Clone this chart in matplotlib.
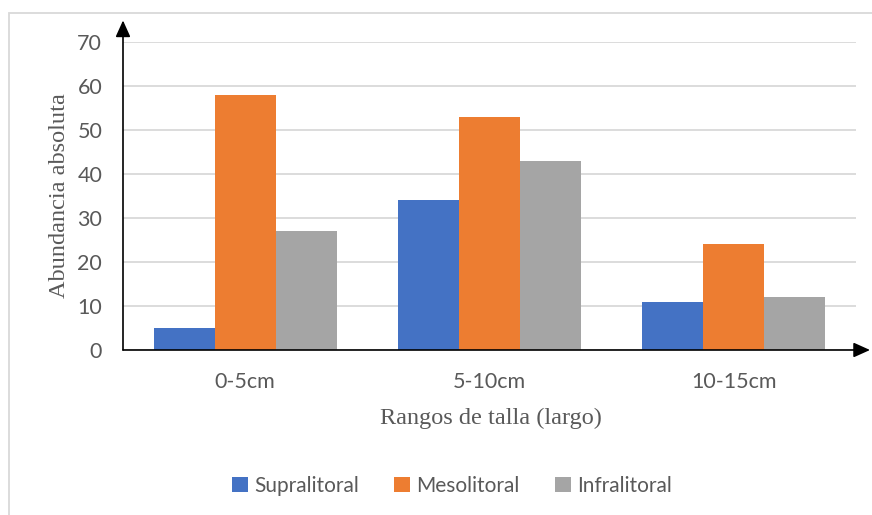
import numpy as np
import matplotlib.pyplot as plt
from matplotlib.patches import Rectangle

categories = ["0-5cm", "5-10cm", "10-15cm"]
series_names = ["Supralitoral", "Mesolitoral", "Infralitoral"]
supralitoral = [5, 34, 11]
mesolitoral = [58, 53, 24]
infralitoral = [27, 43, 12]
y_ticks = [0, 10, 20, 30, 40, 50, 60, 70]

colors = ["#4472c4", "#ed7d31", "#a5a5a5"]
tick_color = "#595959"

W, H = 872, 515
fig = plt.figure(figsize=(W / 100, H / 100), dpi=100)

# light chart-area border
fig.patches.append(Rectangle((9 / W, -0.1), 1.2, 1 - 13 / H + 0.1,
                             transform=fig.transFigure, fill=False,
                             edgecolor="#d9d9d9", linewidth=1.3))

ax = fig.add_axes([123 / W, 165 / H, (856 - 123) / W, (350 - 42) / H])

x = np.arange(len(categories))
width = 0.25
for i, (name, vals) in enumerate(zip(series_names, [supralitoral, mesolitoral, infralitoral])):
    ax.bar(x + (i - 1) * width, vals, width, color=colors[i], label=name, zorder=3)

ax.set_xlim(-0.5, len(categories) - 0.5)
ax.set_ylim(0, 70)
ax.set_yticks(y_ticks)
ax.set_xticks(x)
ax.set_xticklabels(categories)
ax.yaxis.grid(True, color="#d9d9d9", linewidth=1.3, zorder=0)
ax.set_axisbelow(True)
for s in ax.spines.values():
    s.set_visible(False)
ax.tick_params(length=0, labelsize=15.5, labelcolor=tick_color)
ax.tick_params(axis="y", pad=15)
ax.tick_params(axis="x", pad=16)
for lbl in ax.get_xticklabels() + ax.get_yticklabels():
    lbl.set_fontfamily("Lato")

# axes drawn as arrows
ax.annotate("", xy=(0, 1.07), xytext=(0, 0), xycoords="axes fraction",
            arrowprops=dict(arrowstyle="-|>,head_length=1.0,head_width=0.45",
                            color="black", lw=1.2, shrinkA=0, shrinkB=0),
            annotation_clip=False)
ax.annotate("", xy=(1 + 14 / 733, 0), xytext=(0, 0), xycoords="axes fraction",
            arrowprops=dict(arrowstyle="-|>,head_length=1.0,head_width=0.45",
                            color="black", lw=1.2, shrinkA=0, shrinkB=0),
            annotation_clip=False)

ax.set_ylabel("Abundancia absoluta", fontfamily="Liberation Serif",
              fontsize=17.5, color=tick_color)
ax.yaxis.set_label_coords(-63 / 733, (350 - 196) / 308)
ax.set_xlabel("Rangos de talla (largo)", fontfamily="Liberation Serif",
              fontsize=17.5, color=tick_color)
ax.xaxis.set_label_coords((491 - 123) / 733, -(418 - 350) / 308)
ax.xaxis.label.set_va("center")
ax.yaxis.label.set_va("center")

leg = fig.legend(loc="center", bbox_to_anchor=(452 / W, 1 - 486 / H), ncol=3,
                 frameon=False, handlelength=0.75, handleheight=0.75,
                 handletextpad=0.3, columnspacing=1.7,
                 prop={"family": "Lato", "size": 15})
for t in leg.get_texts():
    t.set_color(tick_color)

fig.savefig("out.png", dpi=100)
